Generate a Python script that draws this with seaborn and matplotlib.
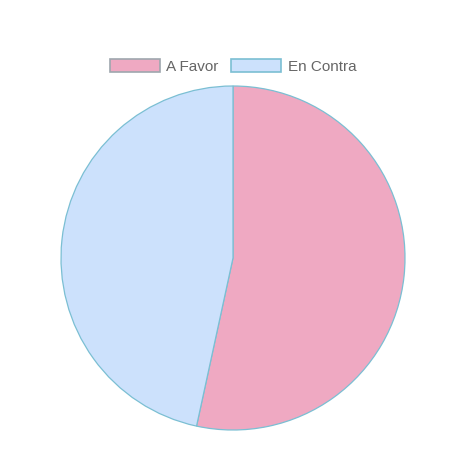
import matplotlib
matplotlib.use('Agg')
import matplotlib.pyplot as plt
import seaborn as sns
from matplotlib.patches import Patch

sns.set_theme(style='white')
plt.rcParams['font.family'] = ['Liberation Sans', 'DejaVu Sans']

# data
labels = ['A Favor', 'En Contra']
values = [53.4, 46.6]
colors = ['#efa9c2', '#cce1fc']
edge_colors = ['#9ea7ae', '#7bbfd3']

W, H = 453, 477
fig = plt.figure(figsize=(W / 100, H / 100), dpi=100)
ax = fig.add_axes([0, 0, 1, 1])
ax.pie(values, colors=colors, startangle=90, counterclock=False,
       center=(233, H - 259), radius=172,
       wedgeprops={'edgecolor': '#7bbfd3', 'linewidth': 0.9})
ax.set_xlim(0, W)
ax.set_ylim(0, H)
ax.set_aspect('equal')
ax.axis('off')

handles = [Patch(facecolor=c, edgecolor=e, linewidth=1.2, label=l)
           for c, e, l in zip(colors, edge_colors, labels)]
ax.legend(handles=handles, loc='center', bbox_to_anchor=(233 / W, 1 - 67 / H),
          ncol=2, frameon=False, fontsize=11, handlelength=3.25, handleheight=0.95,
          handletextpad=0.45, columnspacing=0.8, labelcolor='#666666')

fig.savefig('out.png', dpi=100, facecolor='white')
